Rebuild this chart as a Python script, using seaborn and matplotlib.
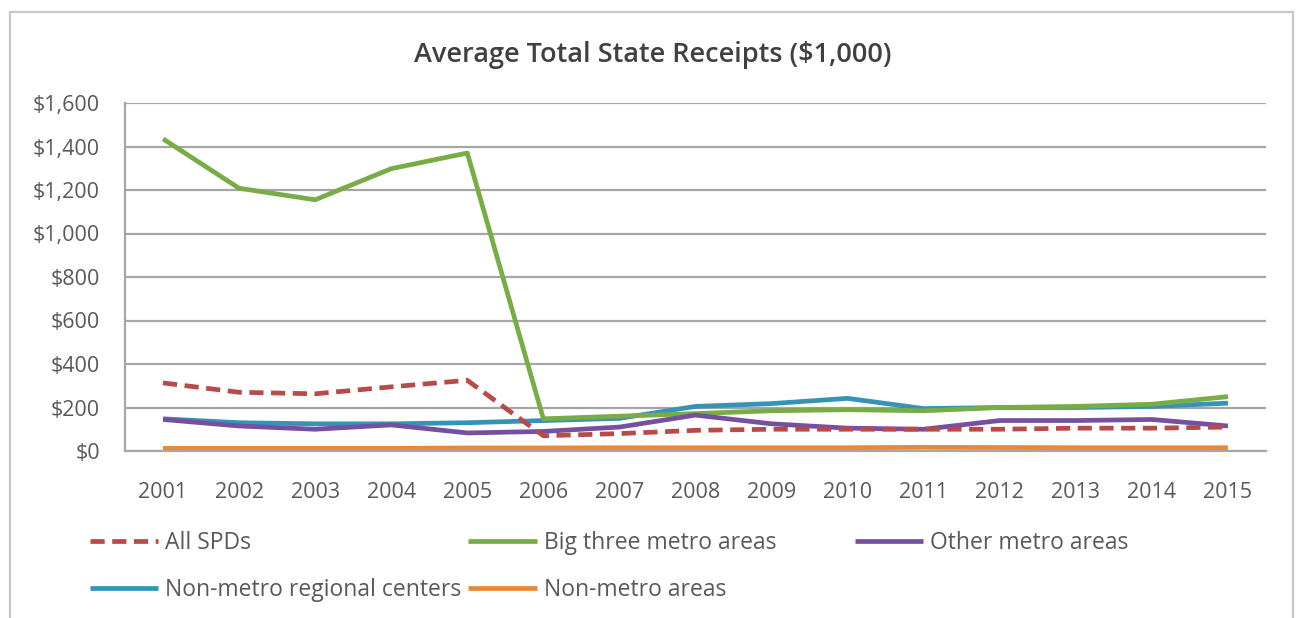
import matplotlib
matplotlib.use("Agg")
import matplotlib.pyplot as plt
import seaborn as sns
import numpy as np
from matplotlib.ticker import FuncFormatter, FixedLocator

# Data ($1,000)
years = list(range(2001, 2016))
all_spds = [313, 270, 263, 295, 325, 70, 80, 95, 100, 100, 100, 100, 105, 105, 110]
big_three = [1435, 1208, 1155, 1298, 1370, 148, 160, 172, 185, 190, 185, 200, 205, 215, 250]
other_metro = [145, 115, 100, 120, 83, 90, 110, 165, 125, 105, 100, 140, 140, 145, 115]
non_metro_centers = [148, 130, 125, 125, 130, 140, 150, 205, 218, 242, 195, 200, 200, 205, 220]
non_metro_areas = [12, 12, 12, 12, 14, 14, 15, 15, 15, 15, 17, 16, 15, 15, 15]

series = [
    ("All SPDs", all_spds, "#b84a48", (0, (3, 1.6))),
    ("Big three metro areas", big_three, "#77ac46", "-"),
    ("Other metro areas", other_metro, "#7650a0", "-"),
    ("Non-metro regional centers", non_metro_centers, "#3593b6", "-"),
    ("Non-metro areas", non_metro_areas, "#e8893a", "-"),
]

sns.set_style("white")
plt.rcParams["font.family"] = ["Open Sans", "DejaVu Sans"]

fig = plt.figure(figsize=(12.97, 6.18), dpi=100)
ax = fig.add_axes([125 / 1297, 1 - 451 / 618, (1266 - 125) / 1297, (451 - 103) / 618])

# draw order so the dashed line sits above teal/purple like in the reference
order = [4, 3, 1, 2, 0]
handles = {}
for i in order:
    name, vals, col, ls = series[i]
    sns.lineplot(x=years, y=vals, ax=ax, color=col, linewidth=3.4, label=name,
                 legend=False)
    line = ax.lines[-1]
    line.set_linestyle(ls)
    line.set_solid_capstyle("butt")
    line.set_dash_capstyle("butt")
    handles[name] = line

ax.set_xlim(2000.5, 2015.5)
ax.set_ylim(0, 1600)
ax.set_yticks(np.arange(0, 1601, 200))
ax.yaxis.set_major_formatter(FuncFormatter(lambda v, p: f"${v:,.0f}"))
ax.set_xticks(years)
ax.xaxis.set_minor_locator(FixedLocator(np.arange(2000.5, 2016, 1)))
ax.grid(axis="y", color="#a6a6a6", linewidth=1.6)
ax.set_axisbelow(True)

for s in ["top", "right"]:
    ax.spines[s].set_visible(False)
for s in ["left", "bottom"]:
    ax.spines[s].set_color("#a6a6a6")
    ax.spines[s].set_linewidth(1.6)

ax.tick_params(axis="x", which="major", length=0, pad=22, labelsize=15.5, colors="#595959")
ax.tick_params(axis="x", which="minor", length=6, width=1.4, color="#a6a6a6")
ax.tick_params(axis="y", length=8, width=1.4, color="#a6a6a6", pad=10,
               labelsize=15.5, labelcolor="#595959")
ax.set_xlabel("")
ax.set_ylabel("")

fig.text(653 / 1297, 1 - 55 / 618, "Average Total State Receipts ($1,000)",
         ha="center", va="center", fontsize=19.5, fontweight="semibold", color="#404040")

# legend laid out row-wise like Excel (matplotlib fills column by column)
leg_kw = dict(loc="upper left", frameon=False, fontsize=16.5, handlelength=3.0,
              handletextpad=0.3, columnspacing=0.3, labelspacing=1.0,
              labelcolor="#595959")
leg_order = ["All SPDs", "Non-metro regional centers", "Big three metro areas",
             "Non-metro areas"]
fig.legend([handles[n] for n in leg_order], leg_order, ncol=2,
           bbox_to_anchor=(69 / 1297, 1 - 510 / 618), **leg_kw)
fig.legend([handles["Other metro areas"]], ["Other metro areas"],
           bbox_to_anchor=(834 / 1297, 1 - 510 / 618), **leg_kw)

# outer chart border
fig.patches.append(plt.Rectangle((10 / 1297, -0.05), 1283 / 1297, 1.05 - 12 / 618,
                                 transform=fig.transFigure, fill=False,
                                 edgecolor="#c8c8c8", linewidth=1.6))

fig.savefig("out.png", dpi=100)
